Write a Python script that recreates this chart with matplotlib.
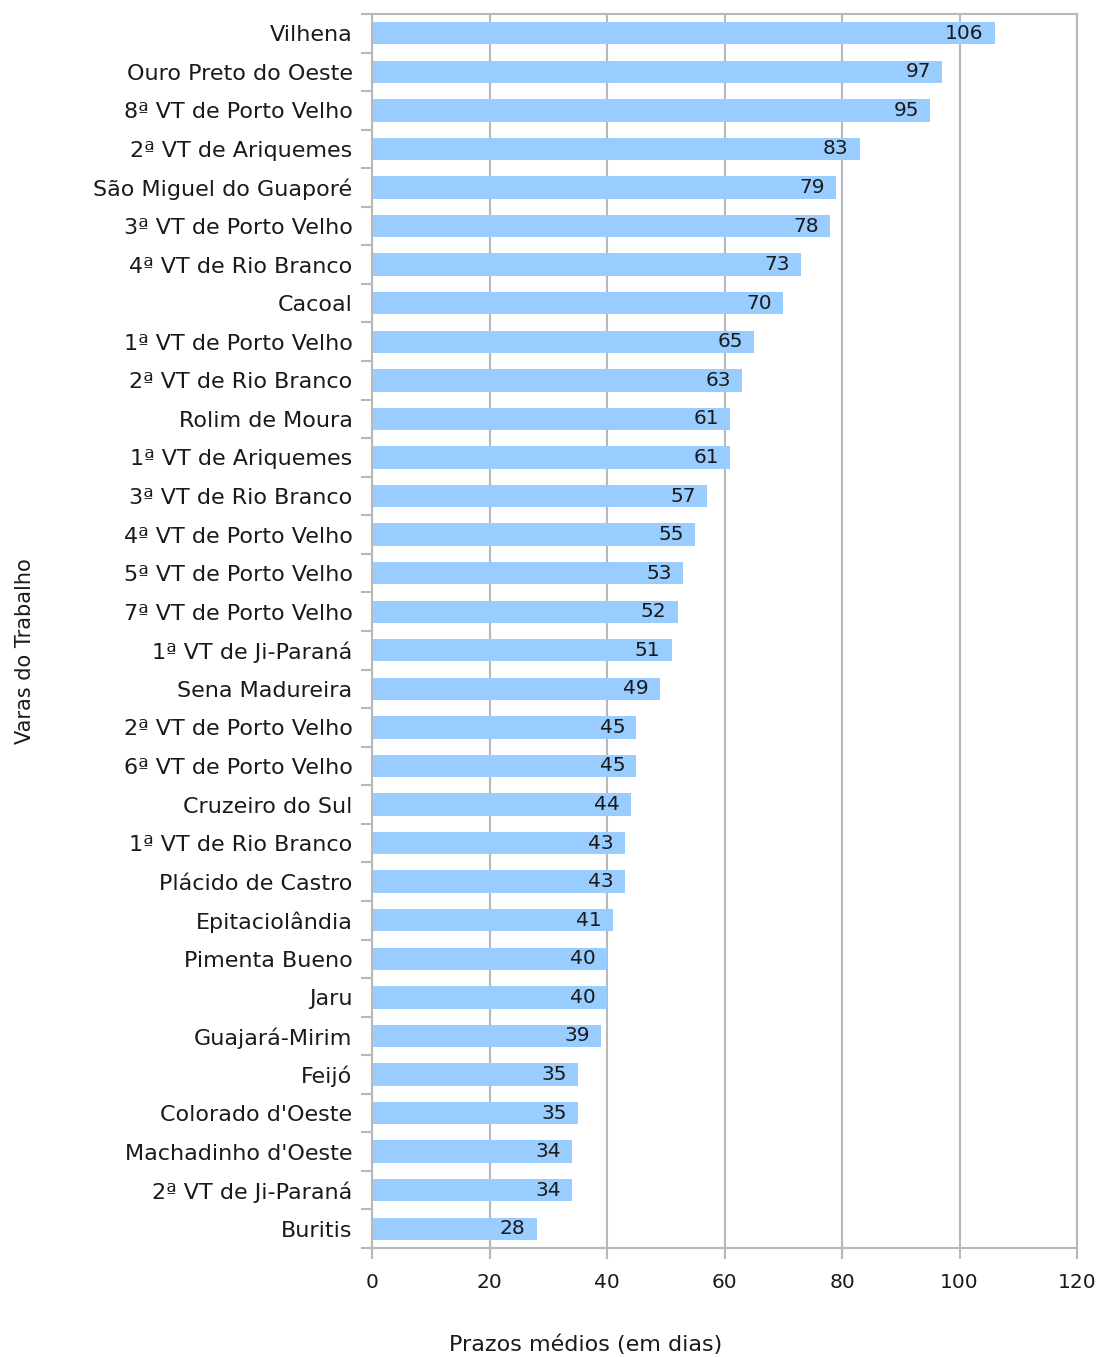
import matplotlib.pyplot as plt
import numpy as np

plt.rcParams['font.family'] = ['DejaVu Sans']

varas = ["Vilhena", "Ouro Preto do Oeste", "8ª VT de Porto Velho", "2ª VT de Ariquemes",
         "São Miguel do Guaporé", "3ª VT de Porto Velho", "4ª VT de Rio Branco", "Cacoal",
         "1ª VT de Porto Velho", "2ª VT de Rio Branco", "Rolim de Moura", "1ª VT de Ariquemes",
         "3ª VT de Rio Branco", "4ª VT de Porto Velho", "5ª VT de Porto Velho",
         "7ª VT de Porto Velho", "1ª VT de Ji-Paraná", "Sena Madureira",
         "2ª VT de Porto Velho", "6ª VT de Porto Velho", "Cruzeiro do Sul",
         "1ª VT de Rio Branco", "Plácido de Castro", "Epitaciolândia", "Pimenta Bueno",
         "Jaru", "Guajará-Mirim", "Feijó", "Colorado d'Oeste", "Machadinho d'Oeste",
         "2ª VT de Ji-Paraná", "Buritis"]
prazos = [106, 97, 95, 83, 79, 78, 73, 70, 65, 63, 61, 61, 57, 55, 53, 52, 51, 49,
          45, 45, 44, 43, 43, 41, 40, 40, 39, 35, 35, 34, 34, 28]

grey = "#b8b8b8"
txt = "#1a1a1a"

fig = plt.figure(figsize=(10.99, 13.57), dpi=100)
ax = fig.add_axes([0.3385, 0.0803, 0.6415, 0.9094])

y = np.arange(len(varas))
ax.barh(y, prazos, height=0.58, color="#99ccff", zorder=2)
for yi, v in zip(y, prazos):
    ax.annotate(str(v), (v, yi), xytext=(-8, 0), textcoords="offset points",
                ha="right", va="center", fontsize=14.5, color=txt, zorder=3)

ax.set_ylim(len(varas) - 0.5, -0.5)
ax.set_xlim(0, 120)
ax.set_xticks(np.arange(0, 121, 20))
ax.set_yticks(y)
ax.set_yticklabels(varas)
ax.set_yticks(np.arange(-0.5, len(varas), 1), minor=True)
ax.tick_params(axis="y", which="major", length=0, pad=14, labelsize=16, labelcolor=txt)
ax.tick_params(axis="y", which="minor", length=8, width=1.5, color=grey)
ax.tick_params(axis="x", which="major", length=8, width=1.5, color=grey, pad=10,
               labelsize=14.5, labelcolor=txt)
ax.grid(axis="x", color=grey, linewidth=1.5, zorder=1)
for s in ax.spines.values():
    s.set_color(grey)
    s.set_linewidth(1.5)

fig.text(586 / 1099, 1 - 1345 / 1357, "Prazos médios (em dias)", ha="center", va="center",
         fontsize=16, color=txt)
fig.text(0.023, 0.52, "Varas do Trabalho", rotation=90, ha="center", va="center",
         fontsize=15, color=txt)

fig.savefig("out.png", dpi=100)
